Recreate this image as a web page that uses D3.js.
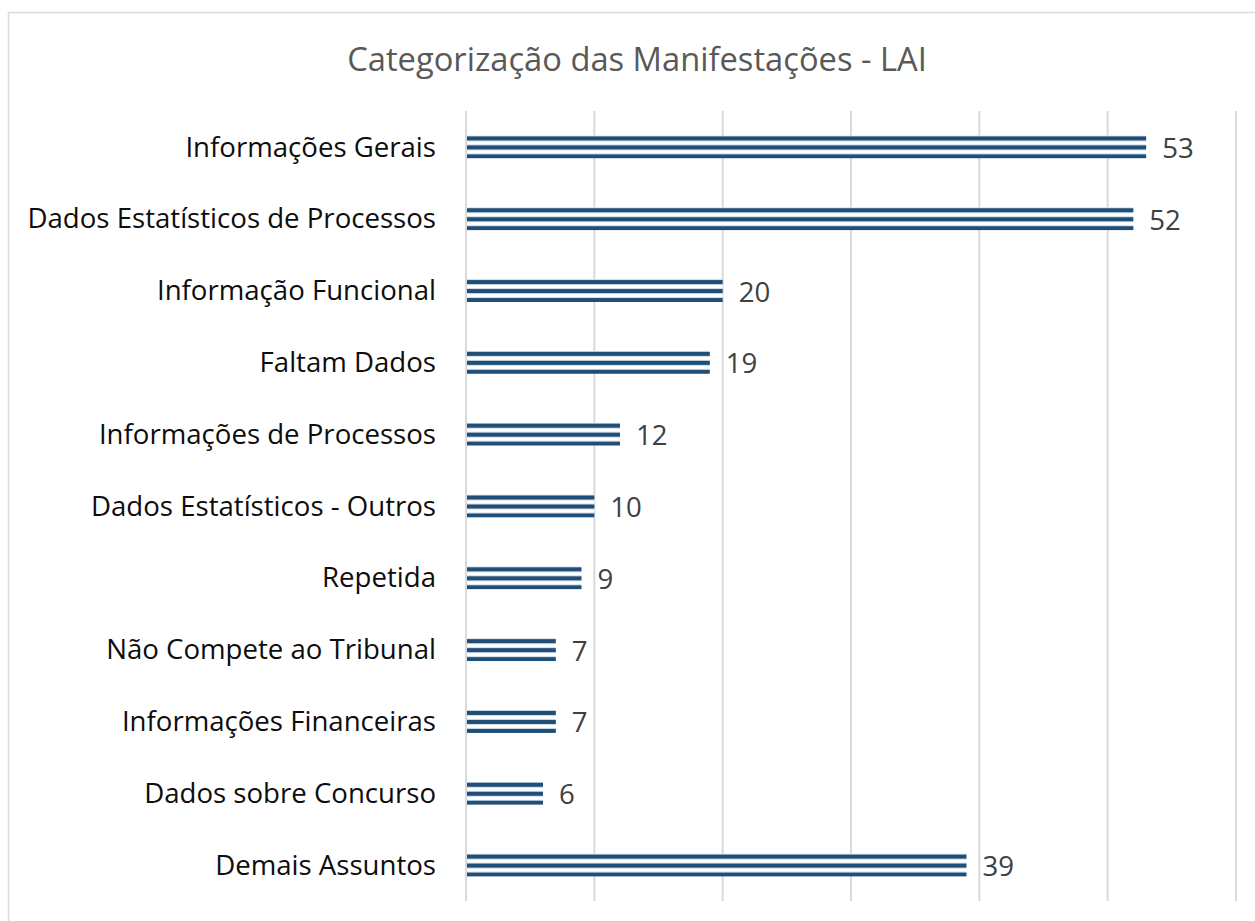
<!DOCTYPE html>
<html>
<head>
<meta charset="utf-8">
<script src="https://cdn.jsdelivr.net/npm/d3@7"></script>
<style>
  body { margin: 0; background: #fff; }
  svg { display: block; font-family: "Open Sans", sans-serif; }
</style>
</head>
<body>
<svg id="chart" width="1255" height="921"></svg>
<script>
// Category data, top to bottom as in the chart
const categories = [
    "Informações Gerais",
    "Dados Estatísticos de Processos",
    "Informação Funcional",
    "Faltam Dados",
    "Informações de Processos",
    "Dados Estatísticos - Outros",
    "Repetida",
    "Não Compete ao Tribunal",
    "Informações Financeiras",
    "Dados sobre Concurso",
    "Demais Assuntos"
];
const counts = [53, 52, 20, 19, 12, 10, 9, 7, 7, 6, 39];
const xTicks = [0, 10, 20, 30, 40, 50, 60];
const title = "Categorização das Manifestações - LAI";

const data = categories.map((c, i) => ({ name: c, count: counts[i] }));

const margin = {top: 111, right: 19, bottom: 20, left: 466};
const height = 921 - margin.top - margin.bottom;

const root = d3.select("#chart");

// Chart frame
root.append("rect")
    .attr("x", 8.5)
    .attr("y", 12.5)
    .attr("width", 1300)
    .attr("height", 1000)
    .attr("fill", "#fff")
    .attr("stroke", "#d9d9d9")
    .attr("stroke-width", 1.5);

// Title
root.append("text")
    .attr("x", 637)
    .attr("y", 71)
    .attr("text-anchor", "middle")
    .attr("fill", "#595959")
    .attr("font-size", "32.7px")
    .text(title);

const svg = root.append("g")
    .attr("transform", `translate(${margin.left},${margin.top})`);

const x = d3.scaleLinear()
    .domain([0, 60])
    .range([0, 770]);

const y = d3.scaleBand()
    .domain(categories)
    .range([0, height])
    .paddingInner(0.68)
    .paddingOuter(0.34);

// Vertical gridlines
svg.append("g")
    .selectAll("line")
    .data(xTicks)
    .enter()
    .append("line")
    .attr("x1", d => x(d))
    .attr("x2", d => x(d))
    .attr("y1", 0)
    .attr("y2", height)
    .attr("stroke", "#d9d9d9")
    .attr("stroke-width", 2);

// Striped pattern, one per bar so each bar gets the same three stripes
// (userSpaceOnUse resolves in the translated group, so y is band-local)
const defs = root.append("defs");
data.forEach((d, i) => {
    const p = defs.append("pattern")
        .attr("id", "stripe" + i)
        .attr("patternUnits", "userSpaceOnUse")
        .attr("x", 0)
        .attr("y", y(d.name))
        .attr("width", 10)
        .attr("height", 9);
    p.append("rect")
        .attr("width", 10).attr("height", 9)
        .attr("fill", "#fff");
    p.append("rect")
        .attr("y", 0.5).attr("width", 10).attr("height", 5)
        .attr("fill", "#9fb6d0");
    p.append("rect")
        .attr("y", 1).attr("width", 10).attr("height", 4)
        .attr("fill", "#1f4e79");
});

// Bars
svg.selectAll(".bar")
    .data(data)
    .enter()
    .append("rect")
    .attr("class", "bar")
    .attr("x", x(0) + 1)
    .attr("y", d => y(d.name))
    .attr("width", d => x(d.count) - x(0) - 1)
    .attr("height", y.bandwidth())
    .attr("fill", (d, i) => `url(#stripe${i})`);

// Category labels
svg.append("g")
    .selectAll("text")
    .data(data)
    .enter()
    .append("text")
    .attr("x", -30)
    .attr("y", d => y(d.name) + y.bandwidth() / 2)
    .attr("dy", "0.35em")
    .attr("text-anchor", "end")
    .attr("fill", "#0d0d0d")
    .attr("font-size", "27.6px")
    .text(d => d.name);

// Value labels
svg.append("g")
    .selectAll("text")
    .data(data)
    .enter()
    .append("text")
    .attr("x", d => x(d.count) + 16)
    .attr("y", d => y(d.name) + y.bandwidth() / 2)
    .attr("dy", "0.4em")
    .attr("fill", "#404040")
    .attr("font-size", "27.6px")
    .text(d => d.count);
</script>
</body>
</html>
